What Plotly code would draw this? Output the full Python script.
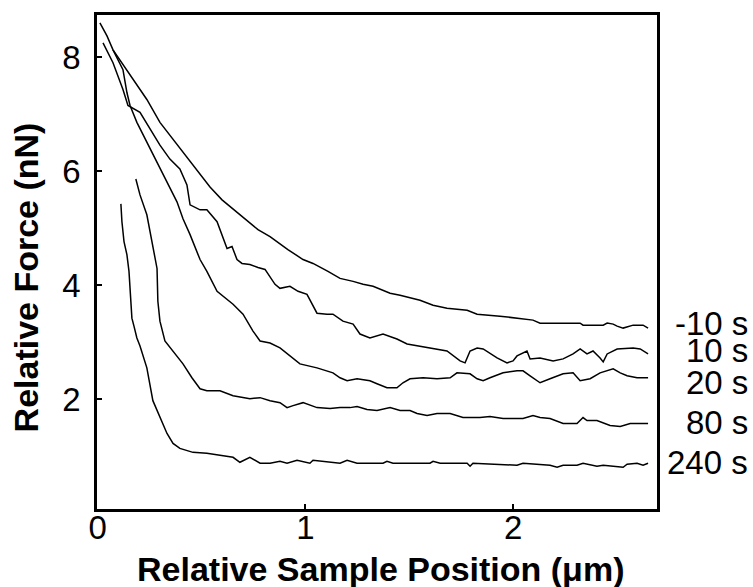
import plotly.graph_objects as go

# ---- data ----
x_m10 = [0.011, 0.045, 0.074, 0.122, 0.189, 0.237, 0.300, 0.363, 0.459, 0.493, 0.541, 0.599, 0.685, 0.772,
         0.830, 0.916, 0.989, 1.037, 1.109, 1.167, 1.230, 1.278, 1.326, 1.408, 1.456, 1.552, 1.615, 1.682,
         1.779, 1.827, 1.937, 2.034, 2.096, 2.130, 2.323, 2.337, 2.434, 2.453, 2.482, 2.501, 2.530, 2.578,
         2.626, 2.650]
y_m10 = [8.598, 8.371, 8.127, 7.866, 7.517, 7.256, 6.855, 6.559, 6.106, 5.932, 5.723, 5.497, 5.235, 4.974,
         4.852, 4.625, 4.451, 4.382, 4.242, 4.120, 4.068, 4.016, 3.981, 3.859, 3.824, 3.737, 3.650, 3.598,
         3.563, 3.493, 3.458, 3.423, 3.389, 3.336, 3.336, 3.301, 3.301, 3.336, 3.319, 3.284, 3.249, 3.301,
         3.301, 3.249]

x_10 = [0.026, 0.074, 0.122, 0.146, 0.204, 0.252, 0.300, 0.348, 0.396, 0.430, 0.445, 0.493, 0.526, 0.575,
        0.613, 0.623, 0.647, 0.671, 0.695, 0.733, 0.772, 0.806, 0.854, 0.878, 0.926, 0.965, 1.008, 1.032,
        1.056, 1.104, 1.133, 1.181, 1.230, 1.263, 1.311, 1.374, 1.441, 1.490, 1.600, 1.682, 1.745, 1.769,
        1.793, 1.827, 1.856, 1.923, 1.971, 2.000, 2.019, 2.067, 2.082, 2.130, 2.193, 2.241, 2.289, 2.323,
        2.356, 2.385, 2.419, 2.434, 2.453, 2.501, 2.578, 2.612, 2.650]
y_10 = [8.249, 7.901, 7.430, 7.152, 7.030, 6.733, 6.455, 6.211, 6.037, 5.758, 5.409, 5.322, 5.322, 5.113,
        4.765, 4.643, 4.678, 4.451, 4.382, 4.364, 4.312, 4.277, 4.016, 3.946, 3.981, 3.894, 3.841, 3.667,
        3.510, 3.493, 3.493, 3.371, 3.319, 3.145, 3.075, 3.145, 3.057, 2.970, 2.901, 2.848, 2.674, 2.639,
        2.848, 2.901, 2.883, 2.726, 2.639, 2.674, 2.761, 2.848, 2.709, 2.726, 2.674, 2.709, 2.796, 2.883,
        2.796, 2.848, 2.726, 2.657, 2.796, 2.883, 2.901, 2.883, 2.796]

x_20 = [0.074, 0.122, 0.141, 0.156, 0.189, 0.237, 0.286, 0.334, 0.382, 0.411, 0.445, 0.493, 0.526, 0.575,
        0.603, 0.652, 0.700, 0.748, 0.782, 0.830, 0.878, 0.926, 0.974, 1.056, 1.133, 1.167, 1.201, 1.249,
        1.311, 1.345, 1.393, 1.441, 1.470, 1.504, 1.567, 1.634, 1.697, 1.730, 1.793, 1.827, 1.856, 1.889,
        1.952, 2.019, 2.048, 2.082, 2.130, 2.178, 2.241, 2.289, 2.323, 2.371, 2.419, 2.482, 2.516, 2.549,
        2.597, 2.650]
y_20 = [8.127, 7.779, 7.378, 7.152, 6.855, 6.507, 6.159, 5.810, 5.462, 5.166, 4.887, 4.451, 4.242, 3.894,
        3.807, 3.667, 3.493, 3.197, 3.023, 2.988, 2.901, 2.761, 2.622, 2.552, 2.465, 2.378, 2.326, 2.361,
        2.326, 2.274, 2.204, 2.204, 2.291, 2.361, 2.378, 2.361, 2.378, 2.465, 2.448, 2.361, 2.326, 2.378,
        2.465, 2.500, 2.500, 2.413, 2.291, 2.361, 2.448, 2.465, 2.326, 2.361, 2.465, 2.535, 2.465, 2.413,
        2.378, 2.378]

x_80 = [0.184, 0.194, 0.204, 0.237, 0.262, 0.286, 0.290, 0.300, 0.324, 0.363, 0.411, 0.454, 0.493, 0.526,
        0.589, 0.652, 0.733, 0.782, 0.830, 0.878, 0.912, 0.941, 0.989, 1.056, 1.119, 1.167, 1.215, 1.249,
        1.297, 1.345, 1.374, 1.408, 1.456, 1.504, 1.538, 1.586, 1.634, 1.697, 1.759, 1.841, 1.889, 1.952,
        2.048, 2.096, 2.130, 2.178, 2.241, 2.308, 2.337, 2.356, 2.404, 2.467, 2.516, 2.564, 2.597, 2.650]
y_80 = [5.862, 5.723, 5.584, 5.235, 4.765, 4.294, 3.720, 3.371, 3.023, 2.848, 2.622, 2.378, 2.186, 2.152,
        2.152, 2.064, 2.012, 2.030, 1.977, 1.942, 1.855, 1.890, 1.942, 1.855, 1.838, 1.855, 1.855, 1.873,
        1.821, 1.803, 1.821, 1.855, 1.803, 1.803, 1.751, 1.716, 1.751, 1.751, 1.681, 1.681, 1.699, 1.664,
        1.664, 1.716, 1.681, 1.664, 1.577, 1.577, 1.681, 1.629, 1.629, 1.542, 1.524, 1.577, 1.577, 1.577]

x_240 = [0.112, 0.117, 0.127, 0.141, 0.151, 0.156, 0.165, 0.175, 0.189, 0.204, 0.237, 0.266, 0.300, 0.334,
         0.363, 0.396, 0.459, 0.526, 0.589, 0.652, 0.685, 0.733, 0.782, 0.830, 0.878, 0.912, 0.960, 1.022,
         1.037, 1.167, 1.201, 1.249, 1.374, 1.393, 1.422, 1.600, 1.615, 1.649, 1.779, 1.793, 1.807, 2.019,
         2.048, 2.178, 2.212, 2.241, 2.308, 2.337, 2.404, 2.434, 2.530, 2.549, 2.597, 2.626, 2.650]
y_240 = [5.427, 5.113, 4.765, 4.538, 4.242, 3.946, 3.423, 3.284, 3.075, 2.936, 2.552, 1.977, 1.681, 1.402,
         1.228, 1.141, 1.071, 1.054, 1.019, 0.984, 0.897, 0.984, 0.880, 0.880, 0.915, 0.880, 0.932, 0.880,
         0.932, 0.880, 0.932, 0.880, 0.880, 0.915, 0.880, 0.880, 0.915, 0.880, 0.880, 0.828, 0.880, 0.845,
         0.880, 0.845, 0.810, 0.845, 0.845, 0.880, 0.828, 0.845, 0.810, 0.862, 0.880, 0.845, 0.880]

series_labels = ["-10 s", "10 s", "20 s", "80 s", "240 s"]
label_y = [3.336, 2.848, 2.291, 1.594, 0.897]

x_ticks = [0, 1, 2]
y_ticks = [2, 4, 6, 8]
x_title = "Relative Sample Position (μm)"
y_title = "Relative Force (nN)"

FONT = "Liberation Sans, Arial, Helvetica, sans-serif"

fig = go.Figure()
for xs, ys, name in [(x_m10, y_m10, series_labels[0]), (x_10, y_10, series_labels[1]),
                     (x_20, y_20, series_labels[2]), (x_80, y_80, series_labels[3]),
                     (x_240, y_240, series_labels[4])]:
    fig.add_trace(go.Scatter(x=xs, y=ys, mode="lines", name=name,
                             line=dict(color="black", width=1.5, shape="linear"),
                             showlegend=False, hoverinfo="skip"))

for lab, yv in zip(series_labels, label_y):
    fig.add_annotation(text=lab, xref="paper", x=1.1661, xanchor="right",
                       yref="y", y=yv, yanchor="middle", showarrow=False,
                       font=dict(family=FONT, size=33, color="black"))

fig.add_annotation(text="<b>%s</b>" % x_title, xref="paper", x=0.5054, xanchor="center",
                   yref="paper", y=-0.1207, yanchor="middle", showarrow=False,
                   font=dict(family=FONT, size=34, color="black"))
fig.add_annotation(text="<b>%s</b>" % y_title, xref="paper", x=-0.1268, xanchor="center",
                   yref="paper", y=0.4688, yanchor="middle", showarrow=False, textangle=-90,
                   font=dict(family=FONT, size=34, color="black"))

fig.update_layout(
    width=753, height=587,
    margin=dict(l=97, r=96, t=12, b=78),
    paper_bgcolor="white", plot_bgcolor="white",
    font=dict(family=FONT, size=33, color="black"),
    xaxis=dict(range=[-0.003, 2.693], tickvals=x_ticks, ticks="inside", ticklen=5, tickwidth=1.5,
               tickcolor="black", showline=True, linecolor="black", linewidth=2.5, mirror=True,
               showgrid=False, zeroline=False, tickfont=dict(size=33), ticklabelstandoff=-12),
    yaxis=dict(range=[0.078, 8.737], tickvals=y_ticks, ticks="inside", ticklen=5, tickwidth=1.5,
               tickcolor="black", showline=True, linecolor="black", linewidth=2.5, mirror=True,
               showgrid=False, zeroline=False, tickfont=dict(size=33), ticklabelstandoff=7),
)

fig.write_html("out.html", config={"displayModeBar": False},
               post_script="document.body.style.margin='0px';")
